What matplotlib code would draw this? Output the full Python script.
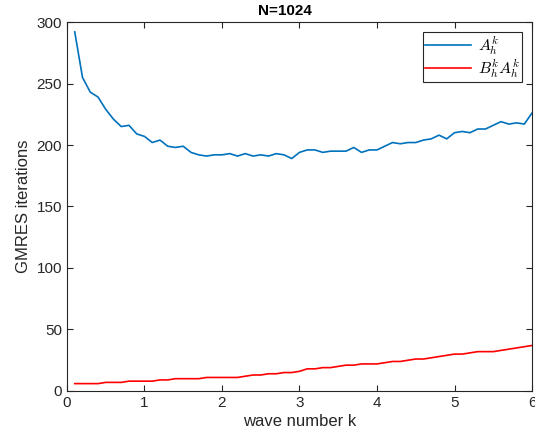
import numpy as np
import matplotlib
matplotlib.use('Agg')
import matplotlib.pyplot as plt

plt.rcParams['font.family'] = ['Liberation Sans', 'DejaVu Sans']
plt.rcParams['mathtext.fontset'] = 'cm'

# wave numbers k = 0.1 ... 6.0
k = np.round(np.arange(1, 61) * 0.1, 1)

# GMRES iterations, A_h^k
iters_A = [292, 255, 243, 239, 229, 221, 215, 216, 209, 207,
           202, 204, 199, 198, 199, 194, 192, 191, 192, 192,
           193, 191, 193, 191, 192, 191, 193, 192, 189, 194,
           196, 196, 194, 195, 195, 195, 198, 194, 196, 196,
           199, 202, 201, 202, 202, 204, 205, 208, 205, 210,
           211, 210, 213, 213, 216, 219, 217, 218, 217, 226]

# GMRES iterations, B_h^k A_h^k
iters_BA = [6, 6, 6, 6, 7, 7, 7, 8, 8, 8,
            8, 9, 9, 10, 10, 10, 10, 11, 11, 11,
            11, 11, 12, 13, 13, 14, 14, 15, 15, 16,
            18, 18, 19, 19, 20, 21, 21, 22, 22, 22,
            23, 24, 24, 25, 26, 26, 27, 28, 29, 30,
            30, 31, 32, 32, 32, 33, 34, 35, 36, 37]

dark = '#262626'

fig = plt.figure(figsize=(5.35, 4.41), dpi=100)
ax = fig.add_axes([0.1252, 0.1134, 0.8692, 0.8367])

ax.plot(k, iters_A, color=(0, 0.447, 0.741), lw=1.2, label=r'$A_h^k$')
ax.plot(k, iters_BA, color='red', lw=1.2, label=r'$B_h^k A_h^k$')

ax.set_xlim(0, 6)
ax.set_ylim(0, 300)
ax.set_xticks(range(0, 7))
ax.set_yticks(range(0, 301, 50))
ax.tick_params(direction='in', top=True, right=True, labelsize=11,
               colors=dark, length=4, width=0.8)
for s in ax.spines.values():
    s.set_color(dark)
    s.set_linewidth(0.8)

ax.set_xlabel('wave number k', fontsize=12, color=dark, labelpad=3)
ax.set_ylabel('GMRES iterations', fontsize=12, color=dark, labelpad=4)
ax.set_title('N=1024', fontsize=11, fontweight='bold', pad=5, x=0.469)

leg = ax.legend(loc='upper right', fontsize=11.5, fancybox=False,
                edgecolor=dark, framealpha=1, handlelength=2.9,
                borderpad=0.15, labelspacing=0.0, handletextpad=0.4,
                borderaxespad=0.6)
leg.get_frame().set_linewidth(0.8)

fig.savefig('out.png', dpi=100)
